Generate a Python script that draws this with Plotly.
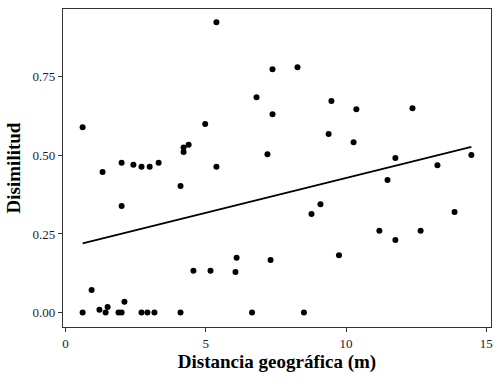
import numpy as np
import plotly.graph_objects as go

distancia = [0.61, 2.00, 2.42, 2.71, 3.00, 3.32, 4.21, 4.21, 4.39, 5.38,
             7.38, 8.27, 6.81, 9.48, 7.38, 4.98, 9.38, 7.20, 5.38, 10.37,
             12.37, 10.27, 11.76, 14.47, 13.26, 1.32, 2.00, 4.10, 0.93, 4.56,
             9.09, 8.77, 9.75, 6.10, 7.31, 5.17, 6.06, 11.48, 13.87, 11.19,
             12.66, 11.76,
             0.61, 1.21, 1.43, 1.50, 1.89, 2.00, 2.10, 2.71, 2.92, 3.17,
             4.10, 6.65, 8.50]
disimilitud = [0.590, 0.477, 0.470, 0.464, 0.464, 0.477, 0.525, 0.511, 0.534, 0.924,
               0.774, 0.781, 0.685, 0.673, 0.631, 0.600, 0.568, 0.504, 0.464, 0.647,
               0.650, 0.542, 0.492, 0.501, 0.469, 0.447, 0.339, 0.403, 0.072, 0.133,
               0.345, 0.314, 0.182, 0.174, 0.167, 0.133, 0.129, 0.422, 0.320, 0.260,
               0.260, 0.231,
               0.000, 0.009, 0.000, 0.018, 0.000, 0.000, 0.034, 0.000, 0.000, 0.000,
               0.000, 0.000, 0.000]

x_ticks = [0, 5, 10, 15]
y_ticks = [0.00, 0.25, 0.50, 0.75]
y_tick_labels = ["0.00", "0.25", "0.50", "0.75"]

x = np.array(distancia)
y = np.array(disimilitud)
b, a = np.polyfit(x, y, 1)
xl = np.linspace(x.min(), x.max(), 80)
yl = a + b * xl

SERIF = "Liberation Serif, Times New Roman, serif"

fig = go.Figure()
fig.add_trace(go.Scatter(x=x, y=y, mode="markers",
                         marker=dict(color="black", size=6), showlegend=False,
                         cliponaxis=False))
fig.add_trace(go.Scatter(x=xl, y=yl, mode="lines",
                         line=dict(color="black", width=1.8), showlegend=False))

axis_common = dict(showgrid=False, zeroline=False, showline=True, mirror=True,
                   linecolor="#333333", linewidth=1.2, ticks="outside", ticklen=4,
                   tickcolor="#333333", automargin=False,
                   tickfont=dict(family=SERIF, size=13, color="#1a1a3a"))
fig.update_xaxes(range=[-0.09, 15.17], tickvals=x_ticks,
                 title=dict(text="<b>Distancia geográfica (m)</b>",
                            font=dict(family=SERIF, size=19, color="black"), standoff=4),
                 **axis_common)
fig.update_yaxes(range=[-0.046, 0.966], tickvals=y_ticks, ticktext=y_tick_labels,
                 title=dict(text="<b>Disimilitud</b>",
                            font=dict(family=SERIF, size=19, color="black"), standoff=6),
                 **axis_common)
fig.update_layout(width=500, height=380, margin=dict(l=63, r=9, t=9, b=53),
                  plot_bgcolor="white", paper_bgcolor="white",
                  font=dict(family=SERIF))
fig.write_html("out.html", config={"displayModeBar": False},
               post_script="document.body.style.margin='0';document.body.style.padding='0';")
